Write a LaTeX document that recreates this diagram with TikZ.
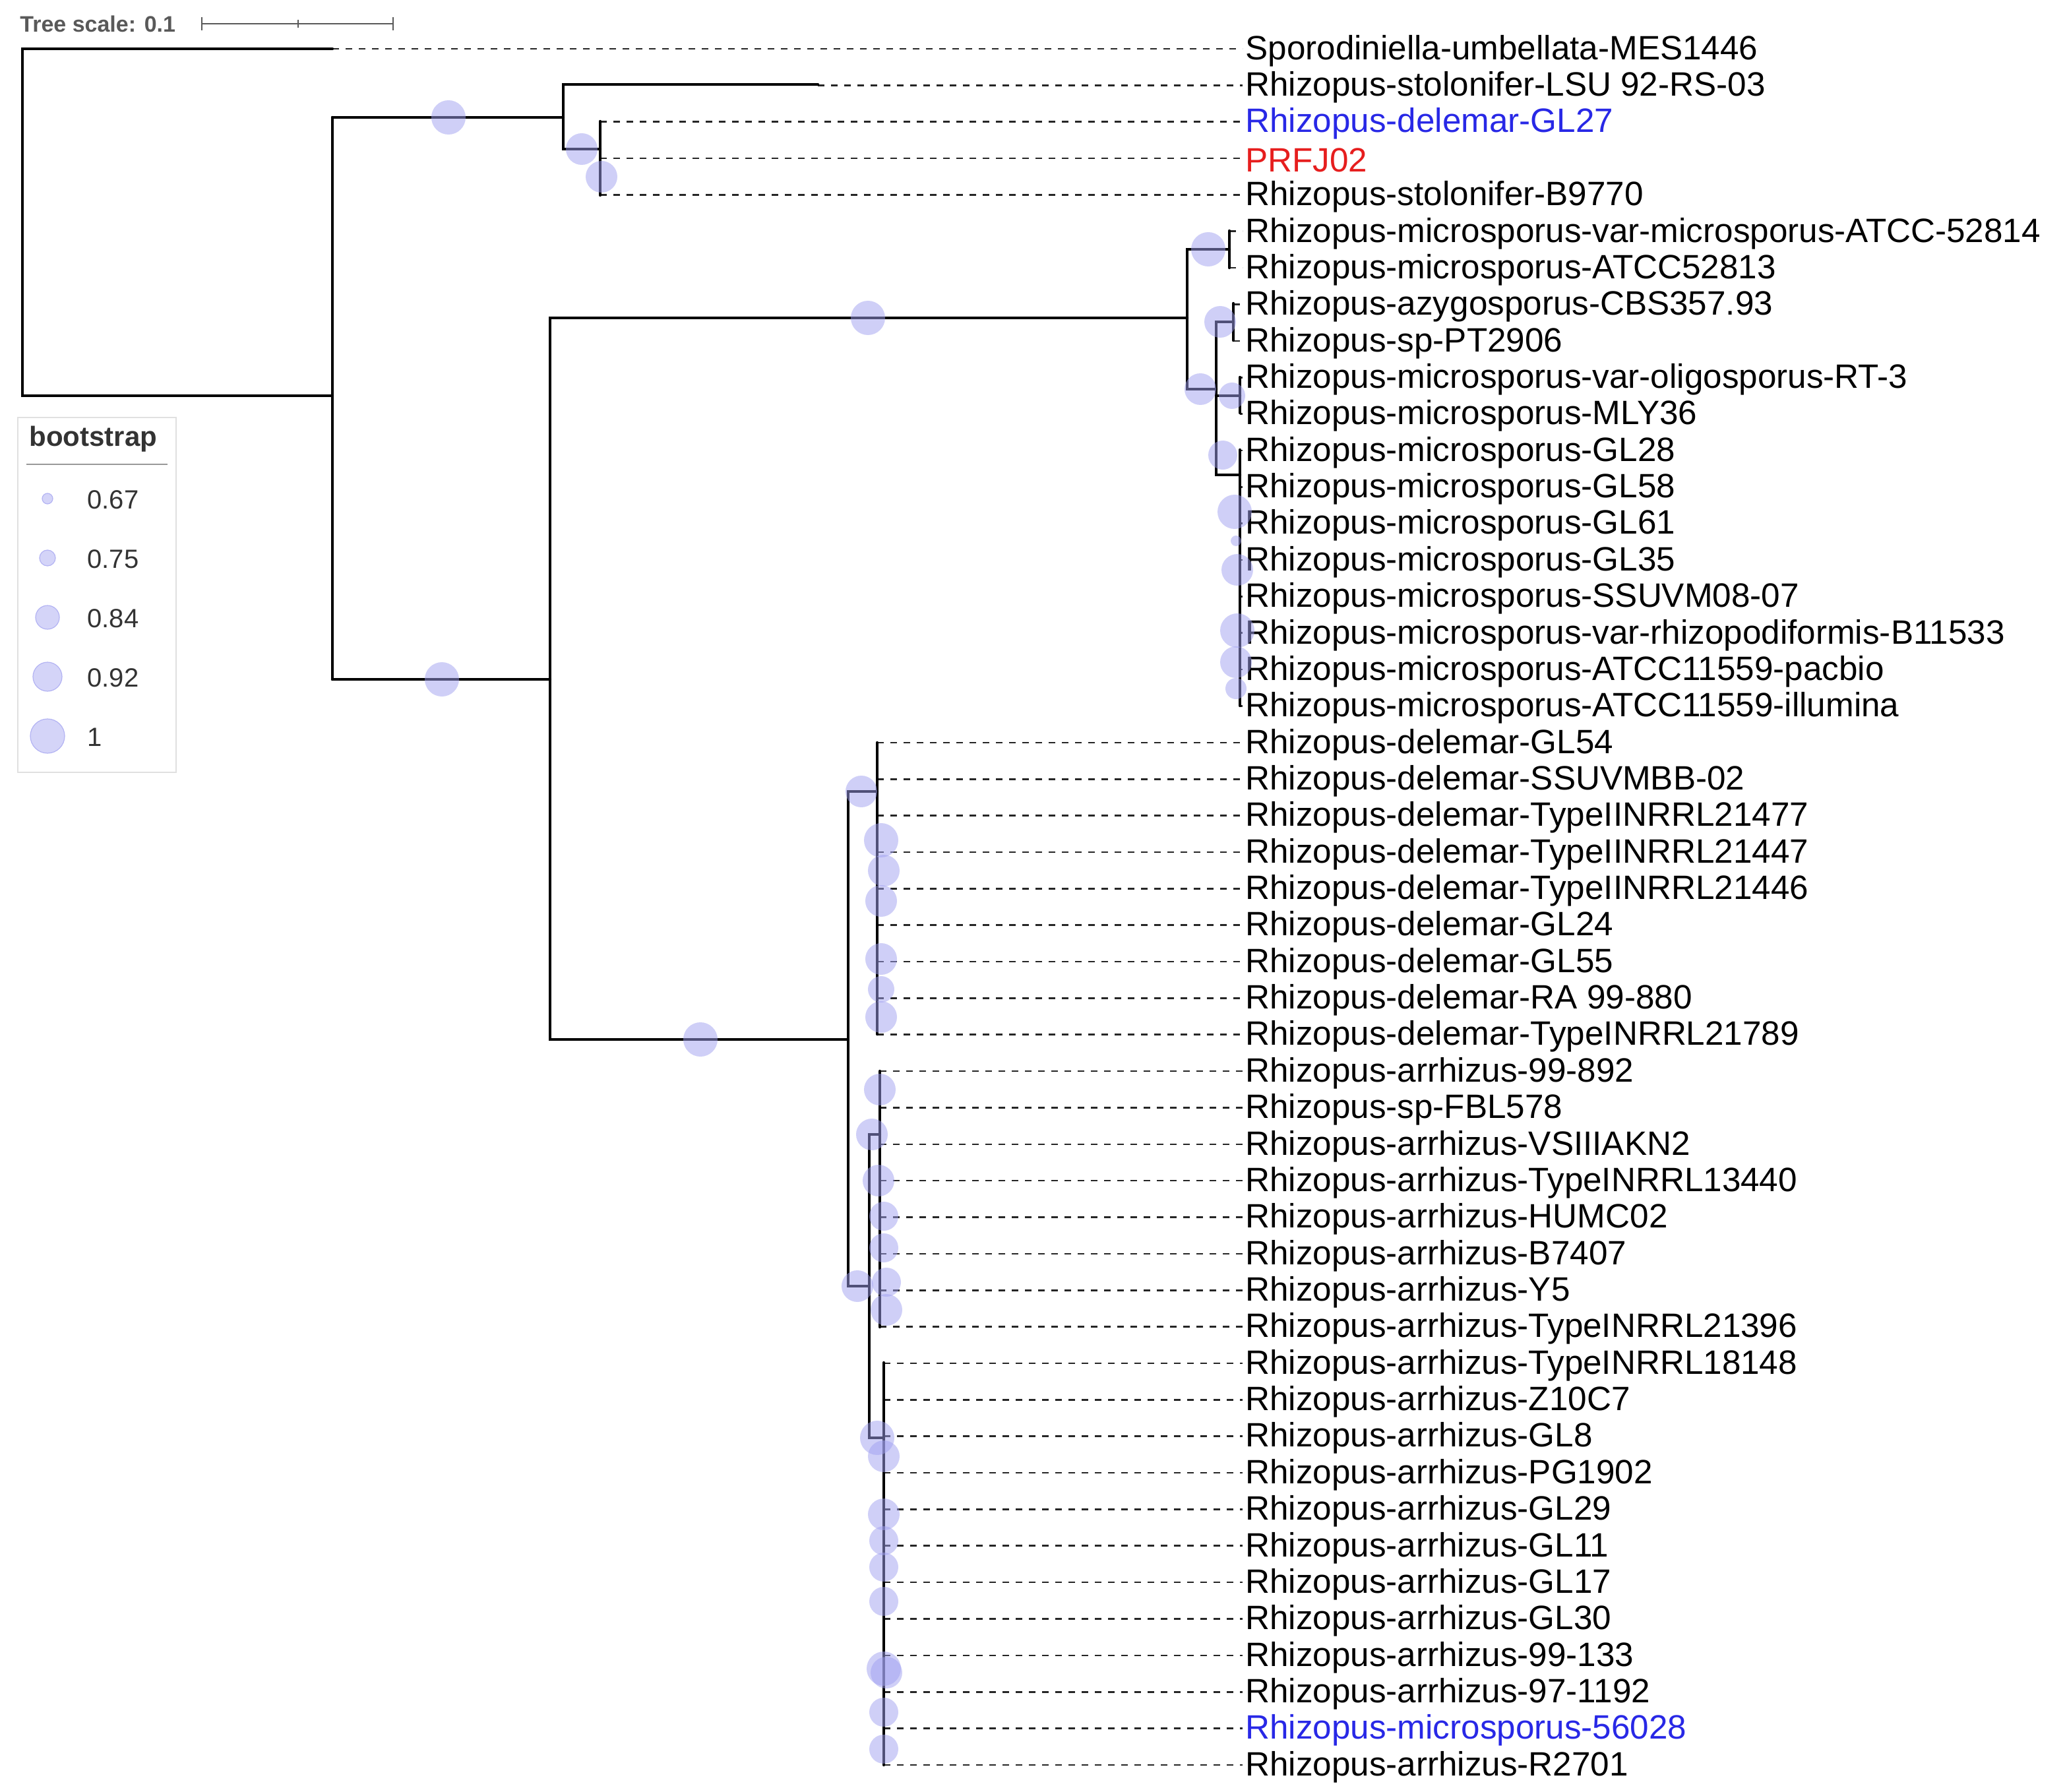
\documentclass[tikz,border=0pt]{standalone}
\usepackage{fontspec}
\setmainfont{Liberation Sans}
\definecolor{bs}{RGB}{160,160,240}
\definecolor{lblue}{RGB}{40,40,230}
\definecolor{lred}{RGB}{230,30,30}
\begin{document}
\begin{tikzpicture}[x=1pt,y=-1pt,
  br/.style={line width=2.2pt,line cap=round},
  dsh/.style={line width=1.3pt,dash pattern=on 5pt off 5pt,black!85},
  leaf/.style={anchor=west,inner sep=0pt,font=\fontsize{25.6}{27}\selectfont},
  bub/.style={circle,fill=bs,fill opacity=0.5,draw=none,inner sep=0pt}]
\useasboundingbox (0,0) rectangle (1565.5,1358.5);
% scale bar
\node[anchor=west,inner sep=0pt,font=\fontsize{17}{19}\selectfont\bfseries,text=black!65] (ts) at (15,18) {Tree scale: 0.1};
\coordinate (sb1) at (153,18); \coordinate (sb2) at (298,18);
\draw[black!65,line width=1pt] (sb1) -- (sb2);
\draw[black!65,line width=1pt] (153,13) -- (153,23) (298,13) -- (298,23) (226,15) -- (226,21);
% leaves
\foreach \i/\xs/\t/\c in {
1/252/Sporodiniella-umbellata-MES1446/black,
2/620/Rhizopus-stolonifer-LSU 92-RS-03/black,
3/455/Rhizopus-delemar-GL27/lblue,
4/455/PRFJ02/lred,
5/455/Rhizopus-stolonifer-B9770/black,
6/932/Rhizopus-microsporus-var-microsporus-ATCC-52814/black,
7/932/Rhizopus-microsporus-ATCC52813/black,
8/935/Rhizopus-azygosporus-CBS357.93/black,
9/935/Rhizopus-sp-PT2906/black,
10/940/Rhizopus-microsporus-var-oligosporus-RT-3/black,
11/940/Rhizopus-microsporus-MLY36/black,
12/940/Rhizopus-microsporus-GL28/black,
13/940/Rhizopus-microsporus-GL58/black,
14/940/Rhizopus-microsporus-GL61/black,
15/940/Rhizopus-microsporus-GL35/black,
16/940/Rhizopus-microsporus-SSUVM08-07/black,
17/940/Rhizopus-microsporus-var-rhizopodiformis-B11533/black,
18/940/Rhizopus-microsporus-ATCC11559-pacbio/black,
19/940/Rhizopus-microsporus-ATCC11559-illumina/black,
20/665/Rhizopus-delemar-GL54/black,
21/665/Rhizopus-delemar-SSUVMBB-02/black,
22/665/Rhizopus-delemar-TypeIINRRL21477/black,
23/665/Rhizopus-delemar-TypeIINRRL21447/black,
24/665/Rhizopus-delemar-TypeIINRRL21446/black,
25/665/Rhizopus-delemar-GL24/black,
26/665/Rhizopus-delemar-GL55/black,
27/665/Rhizopus-delemar-RA 99-880/black,
28/665/Rhizopus-delemar-TypeINRRL21789/black,
29/667/Rhizopus-arrhizus-99-892/black,
30/667/Rhizopus-sp-FBL578/black,
31/667/Rhizopus-arrhizus-VSIIIAKN2/black,
32/667/Rhizopus-arrhizus-TypeINRRL13440/black,
33/667/Rhizopus-arrhizus-HUMC02/black,
34/667/Rhizopus-arrhizus-B7407/black,
35/667/Rhizopus-arrhizus-Y5/black,
36/667/Rhizopus-arrhizus-TypeINRRL21396/black,
37/670/Rhizopus-arrhizus-TypeINRRL18148/black,
38/670/Rhizopus-arrhizus-Z10C7/black,
39/670/Rhizopus-arrhizus-GL8/black,
40/670/Rhizopus-arrhizus-PG1902/black,
41/670/Rhizopus-arrhizus-GL29/black,
42/670/Rhizopus-arrhizus-GL11/black,
43/670/Rhizopus-arrhizus-GL17/black,
44/670/Rhizopus-arrhizus-GL30/black,
45/670/Rhizopus-arrhizus-99-133/black,
46/670/Rhizopus-arrhizus-97-1192/black,
47/670/Rhizopus-microsporus-56028/lblue,
48/670/Rhizopus-arrhizus-R2701/black}{
  \pgfmathsetmacro{\yy}{37+(\i-1)*27.68}
  \node[leaf,text=\c] (L\i) at (944,\yy+1.5) {\t};
  \coordinate (S\i) at (\xs,\yy);
  \draw[dsh] (S\i) -- (942,\yy);
}
% tree branches
\draw[br] (252,37) -- (17,37) -- (17,300) -- (252,300);
\draw[br] (252,89) -- (252,515);
\draw[br] (252,89) -- (427,89);
\draw[br] (620,64) -- (427,64) -- (427,113) -- (455,113);
\draw[br] (455,92) -- (455,148);
\draw[br] (252,515) -- (417,515);
\draw[br] (900,241) -- (417,241) -- (417,788) -- (643,788);
\draw[br] (932,189) -- (900,189) -- (900,295) -- (922,295);
\draw[br] (932,175) -- (932,203);
\draw[br] (935,244) -- (922,244) -- (922,360) -- (940,360);
\draw[br] (935,230) -- (935,258);
\draw[br] (922,300) -- (940,300);
\draw[br] (940,286) -- (940,313);
\draw[br] (940,341) -- (940,535);
\draw[br] (665,600) -- (643,600) -- (643,975) -- (659,975);
\draw[br] (665,563) -- (665,784);
\draw[br] (667,860) -- (659,860) -- (659,1090) -- (670,1090);
\draw[br] (667,812) -- (667,1006);
\draw[br] (670,1033) -- (670,1338);
% bootstrap bubbles
\foreach \x/\y/\r [count=\k] in {340/89/13,441/113/12,456/134/12,658/241/13,335/515/13,531/788/13,
916/189/13,925/244/12,910/295/12,934/300/10,927/345/11,936/388/13,937/410/4,938/432/12,938/478/13,937/502/12,937/522/8,
653/600/12,668/637/13,670/660/12,668/683/12,668/727/12,668/750/10,668/771/12,
667/826/12,661/860/12,666/895/12,670/922/11,670/946/11,650/975/12,672/972/11,672/993/12,
665/1090/13,670/1104/12,670/1148/12,670/1168/11,670/1188/11,670/1214/11,670/1265/13,672/1268/12,670/1298/11,670/1326/11}{
  \node[bub,minimum size=2*\r pt] (b\k) at (\x,\y) {};
}
% legend
\node[draw=black!12,line width=1pt,minimum width=120pt,minimum height=269pt,anchor=north west,inner sep=0pt] (lg) at (13,316) {};
\node[anchor=west,inner sep=0pt,font=\fontsize{21}{23}\selectfont\bfseries,text=black!80] (lgt) at (22,333) {bootstrap};
\draw[black!40,line width=1pt] (20,352) -- (127,352);
\foreach \r/\v/\y [count=\k] in {4/0.67/378,6/0.75/423,9/0.84/468,11/0.92/513,13/1/558}{
  \node[circle,fill=bs!45,draw=bs!80,line width=0.6pt,minimum size=2*\r pt,inner sep=0pt] (lc\k) at (36,\y) {};
  \node[anchor=west,inner sep=0pt,font=\fontsize{20}{22}\selectfont,text=black!80] (lv\k) at (66,\y+1) {\v};
}
\end{tikzpicture}
\end{document}
